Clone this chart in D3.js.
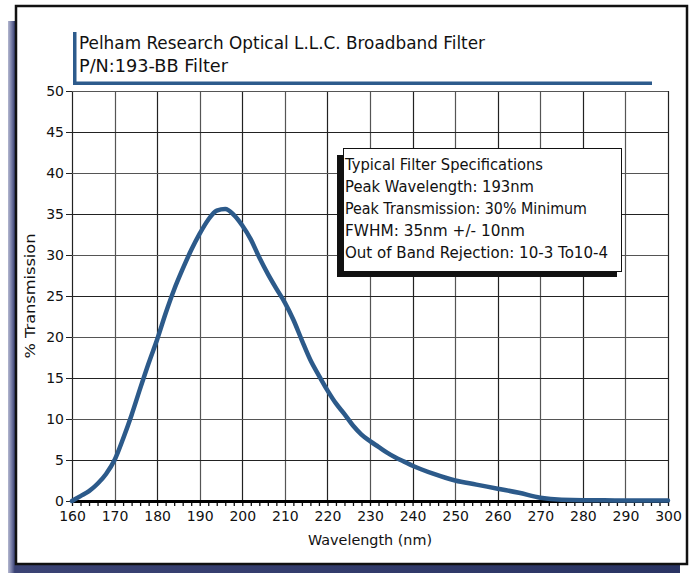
<!DOCTYPE html>
<html><head><meta charset="utf-8">
<script src="https://cdn.jsdelivr.net/npm/d3@7/dist/d3.min.js"></script>
<style>body{margin:0;background:#fff}svg{display:block}text{font-family:"DejaVu Sans",sans-serif;fill:#111}</style>
</head><body><svg id="c" width="694" height="573"></svg>
<script>
const titleLines = ["Pelham Research Optical L.L.C. Broadband Filter", "P/N:193-BB Filter"];
const specLines = ["Typical Filter Specifications", "Peak Wavelength: 193nm", "Peak Transmission: 30% Minimum", "FWHM: 35nm +/- 10nm", "Out of Band Rejection: 10-3 To10-4"];
const xTicks = [160,170,180,190,200,210,220,230,240,250,260,270,280,290,300];
const yTicks = [0,5,10,15,20,25,30,35,40,45,50];
const wavelength = [160,162,164,166,168,170,172,174,176,178,180,182,184,186,188,190,192,194,196,198,200,202,204,206,208,210,212,214,216,218,220,222,224,226,228,230,232,234,236,238,240,245,250,255,260,265,270,275,280,285,290,295,300];
const transmission = [0.0,0.6,1.2,2.1,3.3,5.0,7.6,10.5,13.7,16.8,19.7,22.9,25.8,28.3,30.6,32.6,34.3,35.4,35.6,34.9,33.6,31.9,29.7,27.7,25.9,24.2,22.1,19.6,17.2,15.3,13.5,11.9,10.6,9.2,8.1,7.3,6.6,5.9,5.3,4.8,4.3,3.3,2.5,2.0,1.5,1.0,0.4,0.15,0.1,0.1,0.05,0.05,0.05];

const svg = d3.select("#c");
const defs = svg.append("defs");
const g1 = defs.append("linearGradient").attr("id","sh").attr("x1","0").attr("x2","1").attr("y1","0").attr("y2","0");
[["0%","#b4b8d0"],["0.5%","#7a80a8"],["1%","#3b4374"],["100%","#2a3463"]].forEach(s=>g1.append("stop").attr("offset",s[0]).attr("stop-color",s[1]));

// frame shadow and card
svg.append("rect").attr("x",8).attr("y",21).attr("width",672).attr("height",552).attr("fill","url(#sh)");
svg.append("rect").attr("x",16).attr("y",6).attr("width",671).attr("height",558).attr("fill","#fff").attr("stroke","#111").attr("stroke-width",2.5);

const m = {l:72, r:668, t:91, b:501};
const x = d3.scaleLinear().domain([160,300]).range([m.l,m.r]);
const y = d3.scaleLinear().domain([0,50]).range([m.b,m.t]);

// grid
const grid = svg.append("g");
grid.selectAll("line.v").data(xTicks).join("line")
  .attr("x1",d=>Math.round(x(d))+0.5).attr("x2",d=>Math.round(x(d))+0.5)
  .attr("y1",m.t).attr("y2",m.b).attr("stroke",(d,i)=>i%2?"#555":"#222").attr("stroke-width",1.2);
grid.selectAll("line.h").data(yTicks).join("line")
  .attr("y1",d=>Math.round(y(d))+0.5).attr("y2",d=>Math.round(y(d))+0.5)
  .attr("x1",m.l).attr("x2",m.r).attr("stroke",(d,i)=>i%2?"#222":"#555").attr("stroke-width",1.2);

// y axis
const ya = svg.append("g").attr("transform",`translate(${m.l},0)`)
  .call(d3.axisLeft(y).tickValues(yTicks).tickSize(6).tickPadding(2));
ya.select(".domain").remove();
ya.selectAll("line").attr("stroke","#222");
ya.selectAll("text").style("font-size","14px").attr("fill","#111");

// x axis (minor ticks every 2 nm)
const minor = d3.range(160,301,2);
const xa = svg.append("g").attr("transform",`translate(0,${m.b})`)
  .call(d3.axisBottom(x).tickValues(minor).tickSize(5).tickFormat(""));
xa.select(".domain").remove();
xa.selectAll("line").attr("stroke","#111").attr("stroke-width",1.3);
const xl = svg.append("g").attr("transform",`translate(0,${m.b})`)
  .call(d3.axisBottom(x).tickValues(xTicks).tickSize(0).tickPadding(10));
xl.select(".domain").remove();
xl.selectAll("text").style("font-size","14px").attr("fill","#111");
svg.append("line").attr("x1",m.l).attr("x2",m.r+1).attr("y1",m.b+0.5).attr("y2",m.b+0.5).attr("stroke","#000").attr("stroke-width",3);

// axis labels
svg.append("text").attr("x",(m.l+m.r)/2).attr("y",545).attr("text-anchor","middle")
  .style("font-size","14px").attr("textLength",124).attr("lengthAdjust","spacingAndGlyphs").text("Wavelength (nm)");
svg.append("text").attr("transform",`translate(35,${(m.t+m.b)/2}) rotate(-90)`).attr("text-anchor","middle")
  .style("font-size","14px").attr("textLength",125).attr("lengthAdjust","spacingAndGlyphs").text("% Transmission");

// curve
const data = wavelength.map((w,i)=>[w,transmission[i]]);
svg.append("path").datum(data).attr("fill","none").attr("stroke","#2c5a8a").attr("stroke-width",4.5)
  .attr("stroke-linejoin","round").attr("stroke-linecap","round")
  .attr("d",d3.line().x(d=>x(d[0])).y(d=>y(d[1])).curve(d3.curveMonotoneX));

// title
const blue = "#2d5b8c";
svg.append("rect").attr("x",73).attr("y",32).attr("width",3.5).attr("height",53).attr("fill",blue);
svg.append("rect").attr("x",73).attr("y",81.5).attr("width",579).attr("height",3.5).attr("fill",blue);
const tW = [406,149];
titleLines.forEach((t,i)=>svg.append("text").attr("x",79).attr("y",49+i*23).style("font-size","17px")
  .attr("textLength",tW[i]).attr("lengthAdjust","spacingAndGlyphs").text(t));

// spec box
svg.append("rect").attr("x",337).attr("y",155).attr("width",280).attr("height",122).attr("fill","#111");
svg.append("rect").attr("x",343.5).attr("y",148.5).attr("width",278).attr("height",123).attr("fill","#fff").attr("stroke","#111").attr("stroke-width",1);
const sW = [198,189,242,180,263];
specLines.forEach((t,i)=>svg.append("text").attr("x",345).attr("y",170+i*22).style("font-size","15px")
  .attr("textLength",sW[i]).attr("lengthAdjust","spacingAndGlyphs").text(t));
</script></body></html>
